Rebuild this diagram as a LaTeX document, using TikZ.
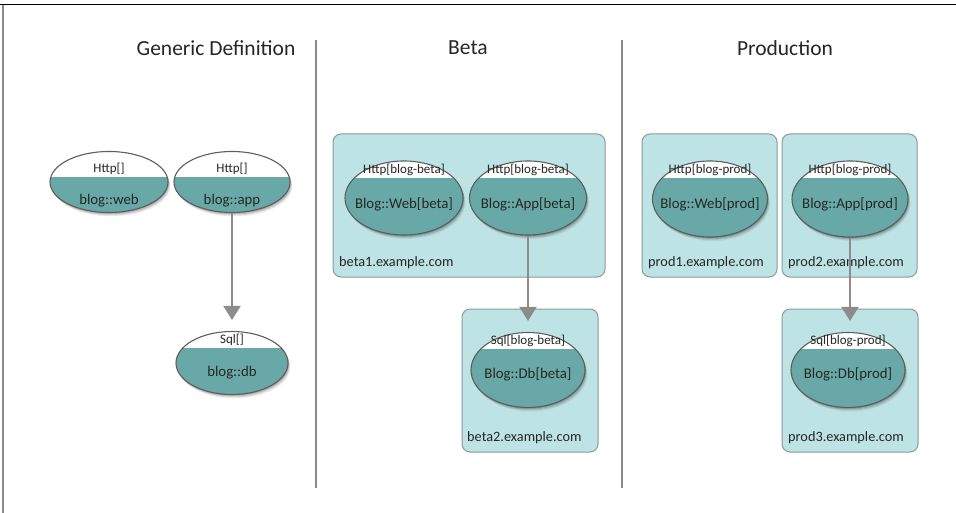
\documentclass[tikz,border=0pt]{standalone}
\usepackage{fontspec}
\setmainfont{Carlito}
\usetikzlibrary{arrows.meta,shapes.geometric}

\definecolor{svcteal}{HTML}{68A9A8}
\definecolor{hostfill}{HTML}{BDE3E4}
\definecolor{hostedge}{HTML}{8A9B9B}
\definecolor{rulegray}{HTML}{8A8A8A}
\definecolor{flowgray}{HTML}{8C8C8C}
\definecolor{svcedge}{HTML}{5E5E5E}

\tikzset{
  title/.style={font=\fontsize{21.5}{24}\selectfont, text=black!85},
  hostbox/.style={draw=hostedge, fill=hostfill, line width=1pt, rounded corners=8pt},
  hostlbl/.style={anchor=west, inner sep=0pt, font=\fontsize{14.3}{16}\selectfont, text=black!85},
  toplbl/.style={inner sep=0pt, font=\fontsize{13}{15}\selectfont, text=black!85},
  mainlbl/.style={inner sep=0pt, font=\fontsize{14.8}{17}\selectfont, text=black!85},
  svcshape/.style={ellipse, inner sep=0pt, draw=svcedge, line width=1.1pt},
  flow/.style={draw=flowgray, line width=2pt, shorten >=11pt,
    -{Triangle[width=17pt,length=14pt]}},
  divider/.style={draw=rulegray, line width=1.5pt},
}

% service oval: name, cx, cy, width, height, y of split, upper text, lower text, y of lower text
\newcommand\svcnode[9]{%
  \foreach \o/\op in {4/0.06,3/0.09,2/0.12,1/0.16}
    \fill[black, opacity=\op] (#2+\o*0.6,#3+\o) ellipse [x radius=#4/2, y radius=#5/2];
  \begin{scope}
    \clip (#2,#3) ellipse [x radius=#4/2, y radius=#5/2];
    \fill[svcteal] (#2-#4/2,#3-#5/2) rectangle (#2+#4/2,#3+#5/2);
    \fill[white] (#2-#4/2,#3-#5/2) rectangle (#2+#4/2,#6);
  \end{scope}
  \node[svcshape, minimum width=#4pt, minimum height=#5pt] (#1) at (#2,#3) {};
  \node[toplbl] (#1-kind) at (#2,#6-8) {#7};
  \node[mainlbl] (#1-name) at (#2,#9) {#8};
}

\begin{document}
\begin{tikzpicture}[x=1pt, y=-1pt]
  \useasboundingbox (0,0) rectangle (956,513);

  % outer frame (top and left edges only)
  \draw[black, line width=1pt] (0,5) -- (956,5);
  \draw[rulegray, line width=2pt] (3,5) -- (3,513);

  % column titles
  \node[title] (tgen)  at (216,48) {Generic Definition};
  \node[title] (tbeta) at (468,48) {Beta};
  \node[title] (tprod) at (785,48) {Production};

  % column separators
  \draw[divider] (316,40) -- (316,488);
  \draw[divider] (622,40) -- (622,488);

  % host boxes
  \draw[hostbox] (333,134) rectangle (605,277);
  \node[hostlbl] (beta1) at (339,263) {beta1.example.com};
  \draw[hostbox] (462,309) rectangle (598,452);
  \node[hostlbl] (beta2) at (467,438) {beta2.example.com};
  \draw[hostbox] (642,134) rectangle (777,277);
  \node[hostlbl] (prod1) at (648,263) {prod1.example.com};
  \draw[hostbox] (782,134) rectangle (917,277);
  \node[hostlbl] (prod2) at (788,263) {prod2.example.com};
  \draw[hostbox] (782,309) rectangle (918,452);
  \node[hostlbl] (prod3) at (788,438) {prod3.example.com};

  % generic definition
  \svcnode{gweb}{109}{182}{118}{61}{177}{Http[]}{blog::web}{201}
  \svcnode{gapp}{232}{182}{116}{61}{177}{Http[]}{blog::app}{201}
  \svcnode{gdb}{232}{363}{112}{63}{348}{Sql[]}{blog::db}{373}

  % beta
  \svcnode{bweb}{404}{198}{118}{74}{178}{Http[blog-beta]}{Blog::Web[beta]}{204}
  \svcnode{bapp}{528}{198}{117}{74}{178}{Http[blog-beta]}{Blog::App[beta]}{204}
  \svcnode{bdb}{528}{370}{114}{75}{349}{Sql[blog-beta]}{Blog::Db[beta]}{374}

  % production
  \svcnode{pweb}{710}{199}{115}{76}{178}{Http[blog-prod]}{Blog::Web[prod]}{204}
  \svcnode{papp}{850}{199}{116}{76}{178}{Http[blog-prod]}{Blog::App[prod]}{204}
  \svcnode{pdb}{848}{370}{114}{75}{349}{Sql[blog-prod]}{Blog::Db[prod]}{374}

  % dependencies
  \draw[flow] (gapp.south) -- (gdb.north);
  \draw[flow] (bapp.south) -- (bdb.north);
  \draw[flow] (papp.south) -- (papp.south |- pdb.north);
\end{tikzpicture}
\end{document}
